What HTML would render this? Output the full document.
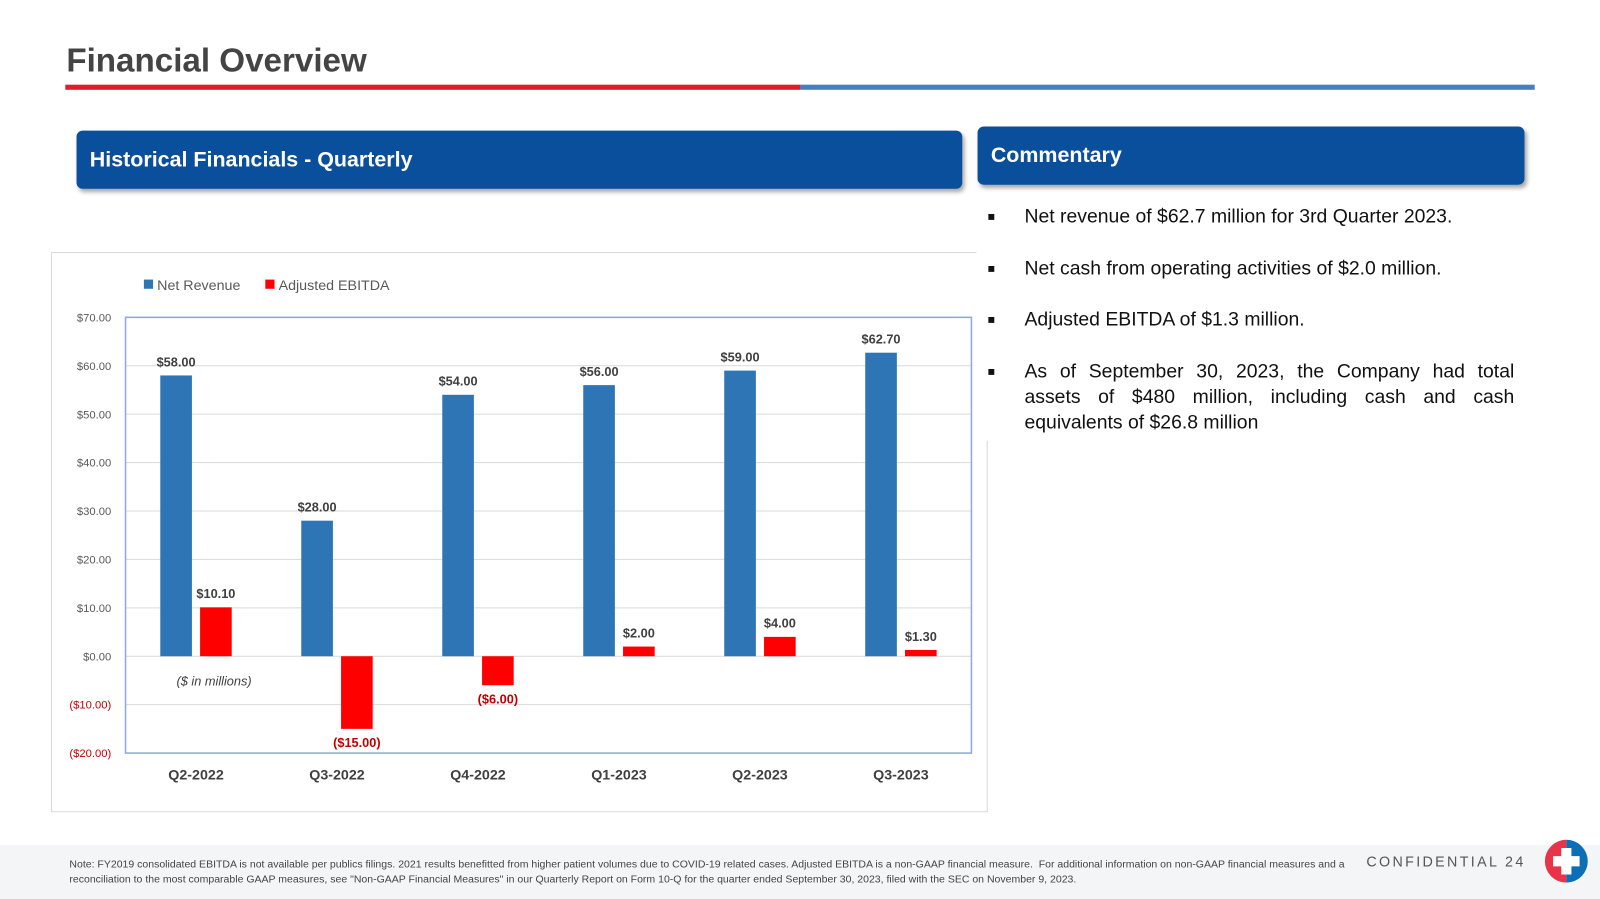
<!DOCTYPE html>
<html><head><meta charset="utf-8"><style>
html,body{margin:0;padding:0;width:1600px;height:899px;overflow:hidden;background:#fff;font-family:"Liberation Sans",Arial,sans-serif}
#w{position:absolute;left:0;top:0;width:1568px;height:881px;transform:scale(1.02041);transform-origin:0 0}
.abs{position:absolute}
.hdr{position:absolute;background:#0a4f9c;color:#fff;font-weight:bold;font-size:21px;border-radius:6px;box-shadow:2px 3px 4px rgba(0,0,0,.35);box-sizing:border-box;padding-left:13px;display:flex;align-items:center}
.bl{position:absolute;left:968px;width:516px;font-size:19px;color:#111;line-height:25px}
.bl span.m{position:absolute;left:0;font-size:12px}
.bl div{margin-left:36px;text-align:justify}
</style></head><body>
<div id="w">
<div class="abs" style="left:65px;top:41px;font-size:32.5px;font-weight:bold;color:#444">Financial Overview</div>
<div class="abs" style="left:64px;top:83px;width:720px;height:5px;background:#e31b2f"></div>
<div class="abs" style="left:784px;top:83px;width:720px;height:5px;background:#4a7ebb"></div>
<div class="hdr" style="left:75px;top:128px;width:868px;height:57px">Historical Financials - Quarterly</div>
<div class="hdr" style="left:958px;top:124px;width:536px;height:57px">Commentary</div>
<div class="abs" style="left:50px;top:247px;width:918px;height:549px;border:1px solid #d9d9d9;box-sizing:border-box"></div>
<div class="abs" style="left:957px;top:240px;width:20px;height:192px;background:#fff"></div>
<svg class="abs" style="left:0;top:0" width="1568" height="881" id="chart"></svg>
<div class="bl" style="top:200px"><span class="m">■</span><div>Net revenue of $62.7 million for 3rd Quarter 2023.</div></div>
<div class="bl" style="top:251px"><span class="m">■</span><div>Net cash from operating activities of $2.0 million.</div></div>
<div class="bl" style="top:301px"><span class="m">■</span><div>Adjusted EBITDA of $1.3 million.</div></div>
<div class="bl" style="top:352px"><span class="m">■</span><div>As of September 30, 2023, the Company had total assets of $480 million, including cash and cash equivalents of $26.8 million</div></div>
<div class="abs" style="left:0;top:828px;width:1568px;height:53px;background:#f4f5f7"></div>
<div class="abs" style="left:68px;top:840px;width:1255px;font-size:10.3px;line-height:15px;color:#444">Note: FY2019 consolidated EBITDA is not available per publics filings. 2021 results benefitted from higher patient volumes due to COVID-19 related cases. Adjusted EBITDA is a non-GAAP financial measure.&nbsp; For additional information on non-GAAP financial measures and a reconciliation to the most comparable GAAP measures, see "Non-GAAP Financial Measures" in our Quarterly Report on Form 10-Q for the quarter ended September 30, 2023, filed with the SEC on November 9, 2023.</div>
<div class="abs" style="left:1339px;top:836px;font-size:14px;letter-spacing:2.3px;color:#555">CONFIDENTIAL 24</div>
<svg class="abs" style="left:1513px;top:822px" width="44" height="44" viewBox="0 0 44 44">
<path d="M22 1 A21 21 0 0 0 22 43 Z" fill="#e8334a"/><path d="M22 1 A21 21 0 0 1 22 43 Z" fill="#0a6fb8"/>
<path d="M17 9h10v8h8v10h-8v8h-10v-8h-8v-10h8z" fill="#fff"/></svg>
</div>
<script>
const categories=["Q2-2022","Q3-2022","Q4-2022","Q1-2023","Q2-2023","Q3-2023"];
const netRevenue=[58,28,54,56,59,62.7];
const adjEbitda=[10.1,-15,-6,2,4,1.3];
const yTicks=[70,60,50,40,30,20,10,0,-10,-20];
const svg=document.getElementById('chart');const NS='http://www.w3.org/2000/svg';
const X0=123,X1=952,Y0=311,Y1=738,YMAX=70,YMIN=-20;
const y=v=>Y0+(YMAX-v)*(Y1-Y0)/(YMAX-YMIN);
const gw=(X1-X0)/categories.length;const cx=i=>X0+gw*(i+0.5);
function mk(t,a,txt){const e=document.createElementNS(NS,t);for(const k in a)e.setAttribute(k,a[k]);if(txt!==undefined)e.textContent=txt;svg.appendChild(e);return e;}
const fmt=v=>v<0?'($'+Math.abs(v).toFixed(2)+')':'$'+v.toFixed(2);
yTicks.forEach(t=>{
 let g=mk('line',{x1:X0,x2:X1,y1:y(t),y2:y(t),stroke:'#d9d9d9','stroke-width':1});
 
 
 let l=mk('text',{x:109,y:y(t)+4,'text-anchor':'end','font-size':11,fill:t<0?'#c00000':'#595959','font-family':'Liberation Sans, sans-serif'},fmt(t));
 
 
});
let f=mk('rect',{x:X0,y:Y0,width:X1-X0,height:Y1-Y0,fill:'none',stroke:'#8eaadb','stroke-width':1.5});


categories.forEach((c,i)=>{
 const bx=cx(i)-19.5-15.5, rx=cx(i)+19.5-15.5;
 const v=netRevenue[i];
 let b=mk('rect',{x:bx,y:y(v),width:31,height:y(0)-y(v),fill:'#2e75b6'});
 
 
 let bl=mk('text',{x:bx+15.5,y:y(v)-9,'text-anchor':'middle','font-size':12.5,'font-weight':'bold',fill:'#404040'},fmt(v));
 
 
 const e=adjEbitda[i];
 let r=mk('rect',{x:rx,y:Math.min(y(e),y(0)),width:31,height:Math.abs(y(0)-y(e)),fill:'#ff0000'});
 
 
 let rl=mk('text',{x:rx+15.5,y:e<0?y(e)+18:y(e)-9,'text-anchor':'middle','font-size':12.5,'font-weight':'bold',fill:e<0?'#c00000':'#404040'},fmt(e));
 
 
 let xl=mk('text',{x:cx(i),y:764,'text-anchor':'middle','font-size':14,'font-weight':'bold',fill:'#404040'},c);
 
 
});
let u=mk('text',{x:173,y:672,'font-size':12.5,'font-style':'italic',fill:'#404040'},'($ in millions)');


let s1=mk('rect',{x:141,y:274,width:9,height:9,fill:'#2e75b6'});


let t1=mk('text',{x:154,y:284,'font-size':14,fill:'#595959'},'Net Revenue');


let s2=mk('rect',{x:260,y:274,width:9,height:9,fill:'#ff0000'});


let t2=mk('text',{x:273,y:284,'font-size':14,fill:'#595959'},'Adjusted EBITDA');


</script>
</body></html>
